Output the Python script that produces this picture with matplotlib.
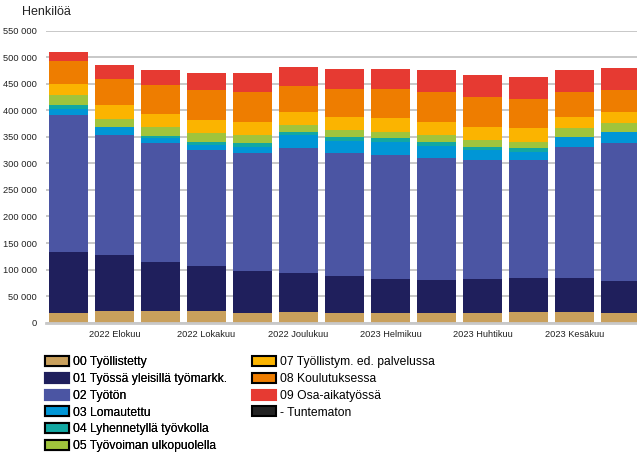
import matplotlib
matplotlib.use("Agg")
import matplotlib.pyplot as plt
from matplotlib.patches import Patch
import numpy as np

plt.rcParams['font.family'] = ['Liberation Sans', 'DejaVu Sans']

months = ["2022 Heinäkuu", "2022 Elokuu", "2022 Syyskuu", "2022 Lokakuu", "2022 Marraskuu",
          "2022 Joulukuu", "2023 Tammikuu", "2023 Helmikuu", "2023 Maaliskuu", "2023 Huhtikuu",
          "2023 Toukokuu", "2023 Kesäkuu", "2023 Heinäkuu"]

series_names = ["00 Työllistetty", "01 Työssä yleisillä työmarkk.", "02 Työtön", "03 Lomautettu",
                "04 Lyhennetyllä työvkolla", "05 Työvoiman ulkopuolella", "07 Työllistym. ed. palvelussa",
                "08 Koulutuksessa", "09 Osa-aikatyössä", "- Tuntematon"]

s00 = [18125, 21875, 21875, 21875, 18125, 20000, 18125, 18125, 18125, 18125, 20000, 20000, 18125]
s01 = [114375, 105000, 91875, 84375, 78750, 73125, 69375, 63750, 61875, 63750, 63750, 63750, 60000]
s02 = [258750, 226875, 225000, 219375, 223125, 236250, 232500, 234375, 230625, 225000, 223125, 247500, 260625]
s03 = [11250, 13750, 9375, 9375, 11250, 24375, 22500, 24375, 22500, 18750, 15000, 17500, 20000]
s04 = [7500, 1250, 3750, 5625, 7500, 5625, 7500, 7500, 7500, 5625, 7500, 1250, 625]
s05 = [18750, 15000, 16875, 16875, 15000, 13125, 13125, 11250, 13125, 13125, 11250, 16875, 16875]
s07 = [20625, 26250, 24375, 24375, 24375, 24375, 24375, 26250, 24375, 24375, 26250, 20625, 20625]
s08 = [43125, 48750, 54375, 56250, 56250, 48750, 52500, 54375, 56250, 56250, 54375, 46875, 41250]
s09 = [16875, 26250, 28125, 31875, 35625, 35625, 37500, 37500, 41250, 41250, 41250, 41250, 41250]
s_unknown = [0] * 13

colors = ["#C9A05C", "#1F1F5C", "#4B55A3", "#0096D6", "#12A8A2", "#A0C43C",
          "#FBB400", "#EE7D00", "#E63A32", "#222222"]

data = [s00, s01, s02, s03, s04, s05, s07, s08, s09, s_unknown]

fig = plt.figure(figsize=(6.37, 4.55), dpi=100)
ax = fig.add_axes([46/637, 1 - 322.7/455, 1 - 46/637, (322.7 - 30.5)/455])

x = np.arange(len(months))
bottom = np.zeros(len(months))
for vals, c in zip(data, colors):
    v = np.array(vals, dtype=float)
    ax.bar(x, v, bottom=bottom, width=0.85, color=c, linewidth=0, zorder=3)
    bottom += v

ax.set_ylim(0, 550000)
ax.set_xlim(-0.49, 12.36)
yt = np.arange(0, 550001, 50000)
ax.set_yticks(yt)
ax.set_yticklabels(["0" if t == 0 else f"{int(t):,}".replace(",", " ") for t in yt], fontsize=6.7, color="#222222")
ax.yaxis.grid(True, color="#C8C8C8", linewidth=1.4, zorder=0)
ax.tick_params(axis='y', length=0, pad=6.5)
ax.tick_params(axis='x', length=0, pad=5)
ax.set_xticks(x[1::2])
ax.set_xticklabels([months[i] for i in x[1::2]], fontsize=6.7, color="#222222")
for s in ["top", "right", "left"]:
    ax.spines[s].set_visible(False)
ax.spines["bottom"].set_color("#C8C8C8")
ax.spines["bottom"].set_linewidth(2)
ax.spines["bottom"].set_zorder(4)

fig.text(22/637, 1 - 12/455, "Henkilöä", fontsize=9, color="#222222", va="center", ha="left")

edge = ["black", colors[1], colors[2], "black", "black", "black", "black", "black", colors[8], "black"]
handles = [Patch(facecolor=c, edgecolor=e, linewidth=1.5) for c, e in zip(colors, edge)]

kw = dict(loc="upper left", frameon=False, fontsize=8.7, handlelength=2.0, handleheight=0.9,
          handletextpad=0.35, labelspacing=0.38, borderpad=0, borderaxespad=0)
leg1 = fig.legend(handles[:6], series_names[:6], bbox_to_anchor=(45/637, 1 - 356/455), **kw)
leg2 = fig.legend(handles[6:], series_names[6:], bbox_to_anchor=(252/637, 1 - 356/455), **kw)
fig.add_artist(leg1)

fig.savefig("out.png", dpi=100)
